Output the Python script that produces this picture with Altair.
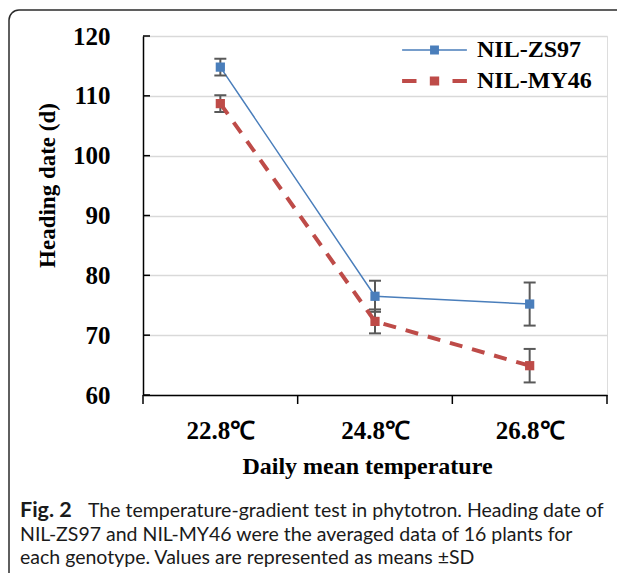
import json
import altair as alt
import pandas as pd

# ---- data ----
temps = ["22.8℃", "24.8℃", "26.8℃"]
series_names = ["NIL-ZS97", "NIL-MY46"]
zs97_mean = [114.8, 76.5, 75.2]
zs97_sd = [1.4, 2.6, 3.6]
my46_mean = [108.7, 72.3, 64.9]
my46_sd = [1.4, 2.0, 2.8]
y_ticks = [60, 70, 80, 90, 100, 110, 120]
x_bounds = [0, 1, 2, 3]
caption_bold = "Fig. 2"
caption_lines = [
    "The temperature-gradient test in phytotron. Heading date of",
    "NIL-ZS97 and NIL-MY46 were the averaged data of 16 plants for",
    "each genotype. Values are represented as means \u00b1SD",
]

BLUE = "#4a7ebb"
RED = "#be4b48"
ERR = "#595959"
SERIF = "Liberation Serif"
SANS = "Lato"

rows = []
for s, means, sds in [(series_names[0], zs97_mean, zs97_sd), (series_names[1], my46_mean, my46_sd)]:
    for i, t in enumerate(temps):
        rows.append({"series": s, "temp": t, "x": i + 0.5, "mean": means[i],
                     "lo": means[i] - sds[i], "hi": means[i] + sds[i]})
df = pd.DataFrame(rows)

W, H = 464, 359
xscale = alt.Scale(domain=[0, 3], nice=False, zero=False)
yscale = alt.Scale(domain=[60, 120], nice=False, zero=False)

path_zs = ("M-2.7,-0.07H2.7V0.07H-2.7Z "
           "M-0.37,-0.37H0.37V0.37H-0.37Z")
path_my = ("M-2.7,-0.17H-1.5V0.17H-2.7Z "
           "M-0.39,-0.37H0.39V0.37H-0.39Z "
           "M1.5,-0.17H2.7V0.17H1.5Z")

cscale = alt.Scale(domain=series_names, range=[BLUE, RED])
legend_def = alt.Legend(
    title=None, orient="none", legendX=279.5, legendY=2, padding=0,
    labelFont=SERIF, labelFontWeight="bold", labelFontSize=24, labelColor="black",
    labelOffset=30.5, rowPadding=7, symbolSize=576, labelBaseline="middle",
    symbolStrokeWidth=0, symbolOpacity=1)
color_enc = alt.Color("series:N", scale=cscale, legend=legend_def)
shape_enc = alt.Shape("series:N", scale=alt.Scale(domain=series_names, range=[path_zs, path_my]),
                      legend=legend_def)

label_expr = json.dumps(temps, ensure_ascii=False).replace('"', "'") + "[floor(datum.value)]"

x_axis = alt.Axis(
    values=[0.5, 1.5, 2.5], labelExpr=label_expr, title="Daily mean temperature",
    titleFont=SERIF, titleFontSize=24, titleFontWeight="bold", titleColor="black",
    titleX=224, titleY=78, titleBaseline="alphabetic", titleAlign="center",
    labelFont=SERIF, labelFontSize=25, labelFontWeight="bold", labelColor="black",
    labelBaseline="alphabetic", labelPadding=43, grid=False, ticks=False, tickSize=0,
    domainColor="black", domainWidth=1.5)
y_axis = alt.Axis(
    values=y_ticks, title="Heading date (d)",
    titleFont=SERIF, titleFontSize=23, titleFontWeight="bold", titleColor="black",
    titleX=-96, titleY=149, titleAngle=270, titleBaseline="middle", titleAlign="center",
    labelFont=SERIF, labelFontSize=25, labelFontWeight="bold", labelColor="black",
    labelPadding=33, ticks=False, tickSize=0, grid=True, gridColor="#d9d9d9", gridWidth=1.5,
    domainColor="black", domainWidth=1.5)


def X(field):
    return alt.X(field, scale=xscale, axis=x_axis)


def Y(field):
    return alt.Y(field, scale=yscale, axis=y_axis)


base = alt.Chart(df)

err_rule = base.mark_rule(color=ERR, strokeWidth=2).encode(x=X("x:Q"), y=Y("lo:Q"), y2="hi:Q")
cap_lo = base.mark_tick(orient="horizontal", size=12, thickness=2, color=ERR, opacity=1).encode(
    x=X("x:Q"), y=Y("lo:Q"))
cap_hi = base.mark_tick(orient="horizontal", size=12, thickness=2, color=ERR, opacity=1).encode(
    x=X("x:Q"), y=Y("hi:Q"))

line_zs = base.transform_filter(alt.datum.series == series_names[0]).mark_line(
    strokeWidth=1.5).encode(x=X("x:Q"), y=Y("mean:Q"), color=color_enc)
line_my = base.transform_filter(alt.datum.series == series_names[1]).mark_line(
    strokeWidth=4, strokeDash=[13, 10]).encode(x=X("x:Q"), y=Y("mean:Q"), color=color_enc)
points = base.mark_point(shape="square", filled=True, size=85, opacity=1).encode(
    x=X("x:Q"), y=Y("mean:Q"), color=color_enc)
# legend-only layer (no rows survive the filter; the scales carry the domains)
legend_layer = base.transform_filter("false").mark_point(filled=True, opacity=1, strokeWidth=0).encode(
    x=X("x:Q"), y=Y("mean:Q"), color=color_enc, shape=shape_enc)

ytick_layer = alt.Chart(pd.DataFrame({"v": y_ticks})).mark_rule(color="black", strokeWidth=1.5).encode(
    y=Y("v:Q"), x=alt.value(0), x2=alt.value(7))
xtick_layer = alt.Chart(pd.DataFrame({"b": x_bounds})).mark_rule(color="black", strokeWidth=1.5).encode(
    x=X("b:Q"), y=alt.value(H), y2=alt.value(H + 9))

one = pd.DataFrame({"a": [0]})
box = alt.Chart(one).mark_rect(fillOpacity=0, stroke="#2b2b2b", strokeWidth=1.5, cornerRadius=10).encode(
    x=alt.value(-134), x2=alt.value(900), y=alt.value(-26), y2=alt.value(900))

cap0 = alt.Chart(pd.DataFrame({"t": [caption_bold]})).mark_text(
    font=SANS, fontSize=21.5, fontWeight="bold", align="left",
    baseline="alphabetic", color="#1a1a1a").encode(
    x=alt.value(-123), y=alt.value(481), text="t:N")
cap_layers = [cap0]
cap_x = [-55, -123, -123]
cap_y = [481, 505, 528]
for i, line in enumerate(caption_lines):
    cap_layers.append(alt.Chart(pd.DataFrame({"t": [line]})).mark_text(
        font=SANS, fontSize=19.5, align="left", baseline="alphabetic", color="#1a1a1a").encode(
        x=alt.value(cap_x[i]), y=alt.value(cap_y[i]), text="t:N"))

chart = alt.layer(
    line_zs, err_rule, cap_lo, cap_hi, line_my, points, legend_layer, ytick_layer, xtick_layer, box, *cap_layers
).properties(
    width=W, height=H,
    autosize=alt.AutoSizeParams(type="none"),
    padding={"left": 135, "top": 28, "right": 10, "bottom": 178},
).configure_view(strokeWidth=0).configure(background="white")

chart.save("out.html", embed_options={"renderer": "svg", "actions": False})
